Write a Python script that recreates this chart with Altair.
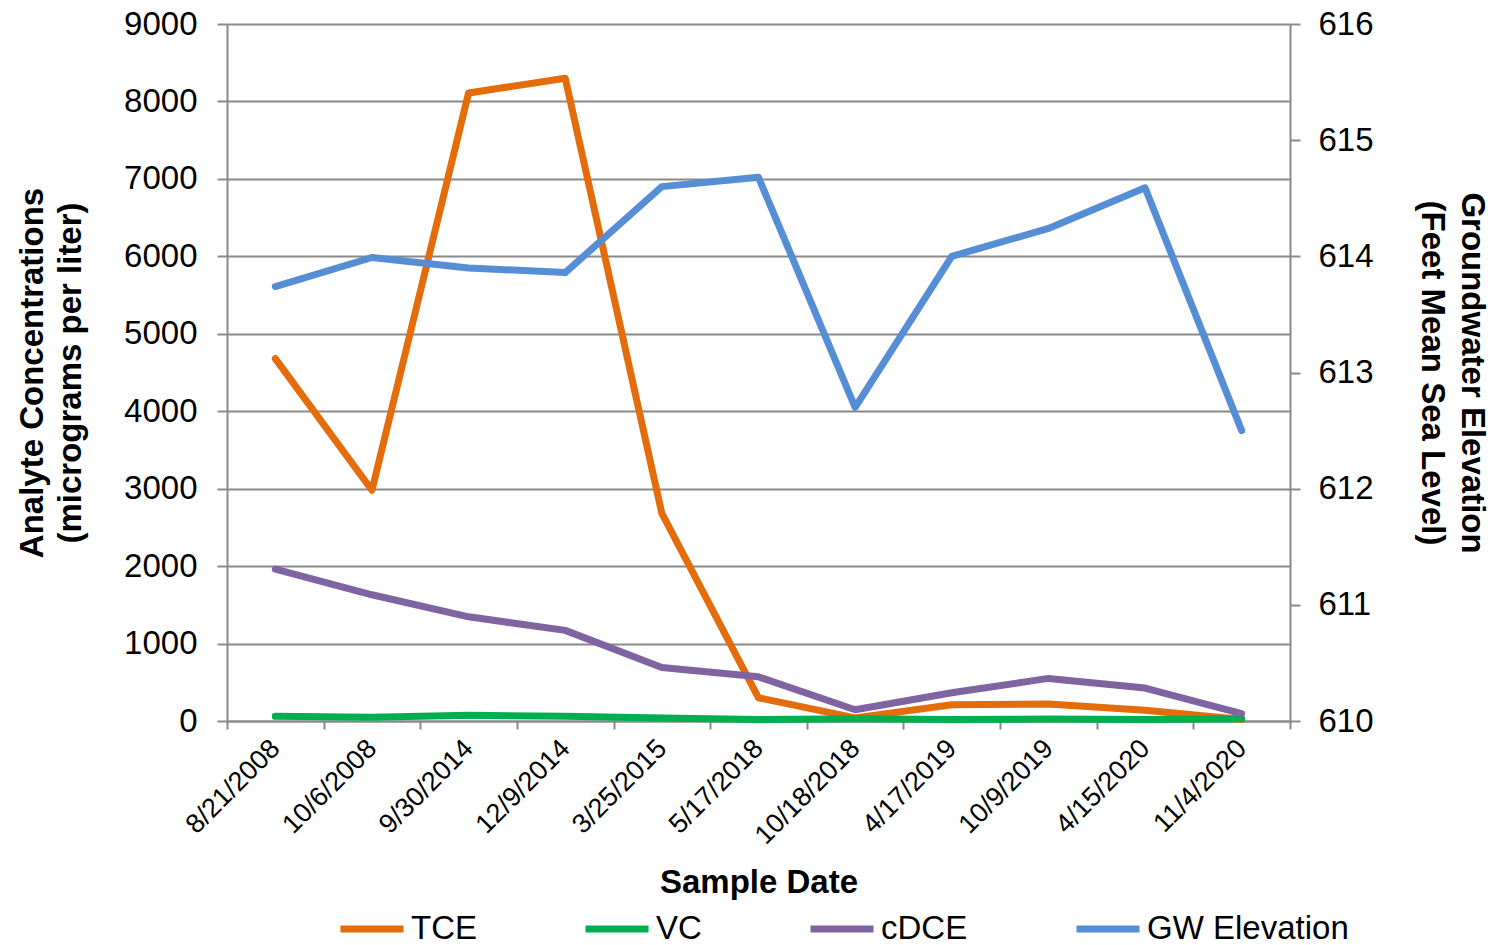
import altair as alt
import pandas as pd

dates = ["8/21/2008", "10/6/2008", "9/30/2014", "12/9/2014", "3/25/2015", "5/17/2018",
         "10/18/2018", "4/17/2019", "10/9/2019", "4/15/2020", "11/4/2020"]
tce = [4680, 2980, 8110, 8300, 2680, 300, 40, 210, 220, 140, 20]
vc = [60, 50, 75, 60, 40, 20, 30, 20, 25, 20, 30]
cdce = [1960, 1630, 1345, 1170, 690, 570, 145, 365, 550, 425, 95]
gw = [613.74, 613.99, 613.90, 613.86, 614.60, 614.68, 612.70, 614.00, 614.24, 614.59, 612.50]

series = ["TCE", "VC", "cDCE", "GW Elevation"]
colors = ["#E46C0A", "#00B050", "#8064A2", "#558ED5"]

FONT = "Liberation Sans"
GRAY = "#898989"
FS = 33

def frame(vals, name):
    return pd.DataFrame({"date": dates, "value": vals, "series": name})

xenc = alt.X("date:N", bandPosition=0.5,
             scale=alt.Scale(type="band", domain=dates, paddingInner=0, paddingOuter=0),
             axis=alt.Axis(title="Sample Date", labelAngle=-45, labelAlign="right",
                           labelBaseline="middle", labelFontSize=27, labelPadding=15,
                           tickBand="extent", tickSize=8, titleFontSize=FS,
                           titleFontWeight="bold", titlePadding=18, grid=False))

legend = alt.Legend(orient="none", legendX=110, legendY=870, direction="horizontal",
                    title=None, symbolType="stroke", symbolSize=3969, symbolStrokeWidth=7,
                    labelFontSize=FS, labelFont=FONT, labelColor="black", columnPadding=94,
                    labelOffset=4, symbolOpacity=1, labelLimit=400)
cenc = alt.Color("series:N", scale=alt.Scale(domain=series, range=colors), legend=legend)

yleft = alt.Y("value:Q",
              scale=alt.Scale(domain=[0, 9000], nice=False),
              axis=alt.Axis(title=["Analyte Concentrations", "(micrograms per liter)"],
                            values=list(range(0, 9001, 1000)), format="d",
                            labelFontSize=FS, labelPadding=20, tickSize=10,
                            titleFontSize=FS, titleFontWeight="bold", titlePadding=36,
                            grid=True, titleLineHeight=38))

def conc_layer(vals, name):
    return alt.Chart(frame(vals, name)).mark_line(strokeWidth=7, strokeCap="round",
                                                   strokeJoin="round").encode(
        x=xenc, y=yleft, color=cenc)

conc = alt.layer(conc_layer(tce, "TCE"), conc_layer(vc, "VC"), conc_layer(cdce, "cDCE"))

gw_layer = alt.Chart(frame(gw, "GW Elevation")).mark_line(
    strokeWidth=7, strokeCap="round", strokeJoin="round").encode(
    x=xenc,
    y=alt.Y("value:Q", scale=alt.Scale(domain=[610, 616], nice=False),
            axis=alt.Axis(orient="right",
                          title=["Groundwater Elevation", "(Feet Mean Sea Level)"],
                          values=list(range(610, 617)), format="d", labelFontSize=FS,
                          labelPadding=18, tickSize=10, titleFontSize=FS,
                          titleFontWeight="bold", titlePadding=41, grid=False,
                          titleLineHeight=40)),
    color=cenc)

chart = alt.layer(conc, gw_layer).resolve_scale(y="independent").properties(
    width=1063, height=697, padding={"left": 8, "top": 0, "right": 0, "bottom": 0}
).configure_axis(
    labelFont=FONT, titleFont=FONT, labelColor="black", titleColor="black",
    domainColor=GRAY, domainWidth=2, tickColor=GRAY, tickWidth=2,
    gridColor=GRAY, gridWidth=2, gridOpacity=1
).configure_view(stroke=None).configure_legend(labelFont=FONT)

chart.save("out.html", embed_options={"renderer": "svg", "actions": False})
